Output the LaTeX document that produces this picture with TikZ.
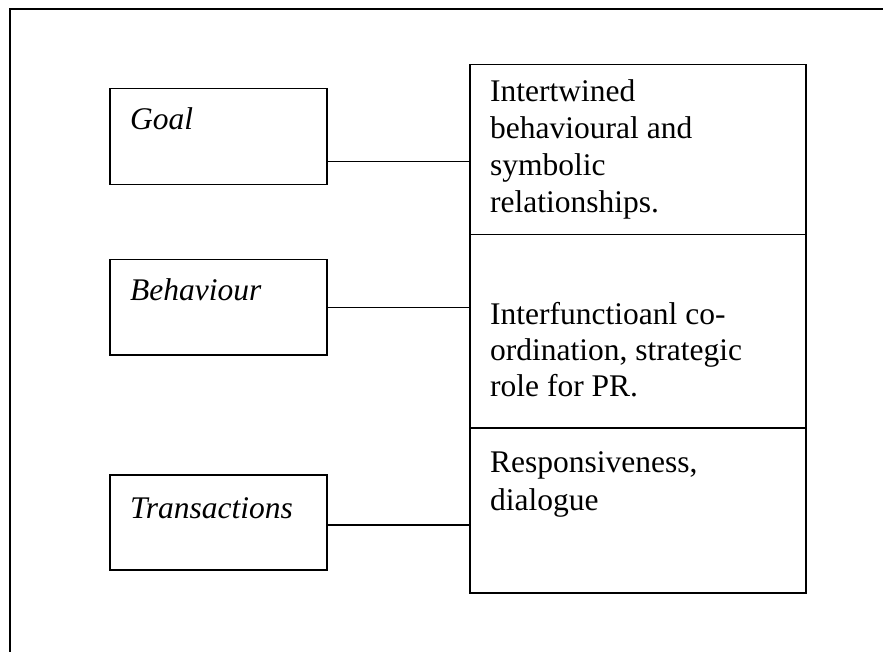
\documentclass[tikz,border=0pt]{standalone}
\usepackage{fontspec}
\setmainfont{Liberation Serif}
\tikzset{
  box/.style={draw, line width=1.5pt, rectangle, inner sep=0pt, anchor=north west},
  txt/.style={anchor=base west, inner sep=0pt},
  link/.style={draw, line width=1.5pt},
}
\newcommand{\bodyfont}{\fontsize{31.5}{37}\selectfont}
\begin{document}
\begin{tikzpicture}[x=1pt,y=-1pt]
\useasboundingbox (0,0) rectangle (883,652);
\clip (0,0) rectangle (883,652);
\fill[white] (0,0) rectangle (883,652);
% outer frame (right and bottom edges outside the page)
\node[box, line width=1.8pt, minimum width=900pt, minimum height=670pt] (frame) at (9,8) {};
% left boxes
\node[box, minimum width=217pt, minimum height=96pt] (goal) at (109,88) {};
\node[box, minimum width=217pt, minimum height=95pt] (beh) at (109,259) {};
\node[box, minimum width=217pt, minimum height=95pt] (trans) at (109,474) {};
% right column
\node[box, minimum width=336pt, minimum height=170pt] (r1) at (469,64) {};
\node[box, minimum width=336pt, minimum height=193pt] (r2) at (469,234) {};
\node[box, minimum width=336pt, minimum height=165pt] (r3) at (469,427) {};
% labels
\node[txt] (goalt) at (130,130) {\bodyfont\itshape Goal};
\node[txt] (beht) at (130,301) {\bodyfont\itshape Behaviour};
\node[txt] (transt) at (130,518) {\bodyfont\itshape Transactions};
\node[txt] (r1t) at (490,102) {\parbox[t]{310pt}{\bodyfont Intertwined\\behavioural and\\symbolic\\relationships.}};
\node[txt] (r2t) at (490,324) {\parbox[t]{310pt}{\fontsize{31.5}{36}\selectfont Interfunctioanl co-\\ordination, strategic\\role for PR.}};
\node[txt] (r3t) at (490,472) {\parbox[t]{310pt}{\fontsize{31.5}{38}\selectfont Responsiveness,\\dialogue}};
% connectors
\coordinate (g1) at ([yshift=-25pt]goal.east);
\draw[link] (g1) -- (g1 -| r1.west);
\coordinate (b1) at (beh.east);
\draw[link] (b1) -- (b1 -| r2.west);
\coordinate (t1) at ([yshift=-2.5pt]trans.east);
\draw[link] (t1) -- (t1 -| r3.west);
\end{tikzpicture}
\end{document}
